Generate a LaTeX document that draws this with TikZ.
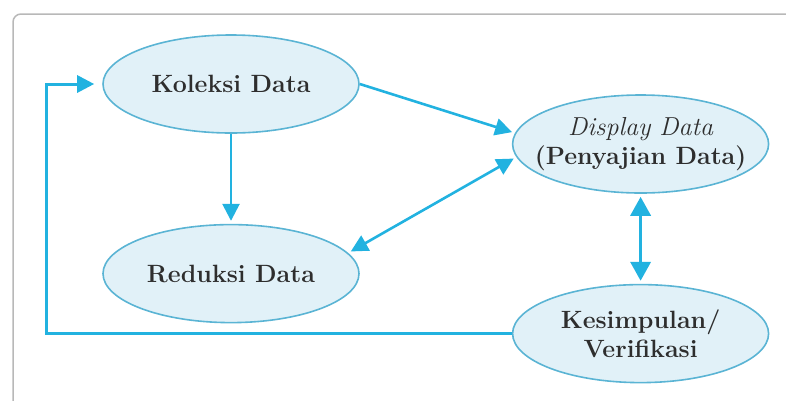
\documentclass[tikz,border=0pt]{standalone}
\usepackage{xcolor}
\usepackage{tikz}
\usetikzlibrary{shapes.geometric,arrows.meta,positioning}

\definecolor{garis}{HTML}{22B2E0}
\definecolor{tepi}{HTML}{5AB4D4}
\definecolor{isi}{HTML}{E1F1F8}
\definecolor{teks}{HTML}{2E2E2E}
\definecolor{bingkai}{HTML}{B8B8B8}

\tikzset{
  tahap/.style={ellipse, draw=tepi, fill=isi, line width=1.6pt,
    minimum width=256pt, minimum height=98pt, inner xsep=-28pt, inner ysep=0pt,
    align=center, text=teks, font=\fontsize{25}{29}\selectfont\bfseries},
  ujung/.style={-{Triangle[length=17pt,width=17pt]}},
  alur/.style={draw=garis, line width=2.6pt, ujung, shorten >=3pt},
  duaalur/.style={alur, {Triangle[length=17pt,width=17pt]}-{Triangle[length=17pt,width=17pt]}, shorten <=3pt},
}

\begin{document}
\begin{tikzpicture}[x=1pt, y=-1pt]
		  \useasboundingbox (0,0) rectangle (786,400) ; %
		  \clip (0,0) rectangle (786,400) ; %
		  \draw[bingkai, line width=1.5pt, rounded corners=8pt] (13,420) -- (13,14) -- (800,14) ; %

		  \node[tahap] (koleksi) at (231,84) {Koleksi Data} ; %
		  \node[tahap, below=90pt of koleksi] (reduksi) {Reduksi Data} ; %
		  \node[tahap, right=152pt of koleksi, yshift=-60pt] (display) {{\mdseries\itshape\fontsize{26}{29}\selectfont Display Data}\\(Penyajian Data)} ; %
		  \node[tahap, below=90pt of display] (kesimpulan) {Kesimpulan/\\Verifikasi} ; %

		  \draw[alur] (koleksi.east) -- (display.175) ; %
		  \draw[alur] (koleksi.south) -- (reduksi.north) ; %
		  \draw[duaalur] (reduksi.10) -- (display.186) ; %
		  \draw[duaalur, line width=3.6pt, {Triangle[length=19pt,width=20pt]}-{Triangle[length=19pt,width=20pt]}] (display.south) -- (kesimpulan.north) ; %
		  \draw[alur, line width=3pt, shorten >=8pt] (kesimpulan.west) -| ([xshift=-56pt]koleksi.west) -- (koleksi.west) ; %
		\end{tikzpicture}
\end{document}
